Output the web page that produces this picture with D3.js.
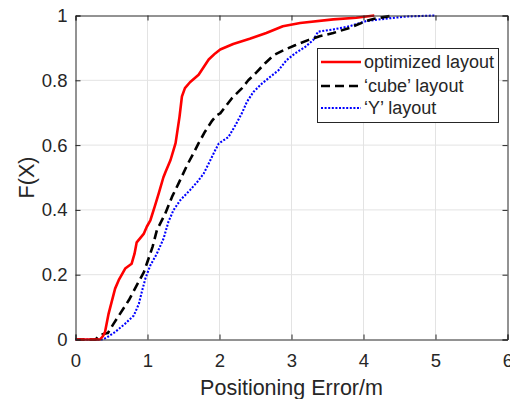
<!DOCTYPE html>
<html>
<head>
<meta charset="utf-8">
<script src="https://cdn.jsdelivr.net/npm/d3@7"></script>
<style>
  html, body { margin: 0; padding: 0; background: #fff; }
  svg { display: block; }
  text { font-family: "Liberation Sans", Arial, Helvetica, sans-serif; fill: #262626; }
</style>
</head>
<body>
<svg id="chart" width="510" height="399"></svg>
<script>
// ---- data ----
const xTicks = [0, 1, 2, 3, 4, 5, 6];
const yTicks = [0, 0.2, 0.4, 0.6, 0.8, 1];
const xTickLabels = ["0", "1", "2", "3", "4", "5", "6"];
const yTickLabels = ["0", "0.2", "0.4", "0.6", "0.8", "1"];
const seriesNames = ["optimized layout", "\u2018cube\u2019 layout", "\u2018Y\u2019 layout"];

const optimizedX = [0, 0.34, 0.38, 0.41, 0.46, 0.55, 0.60, 0.69, 0.78, 0.82, 0.85, 0.95, 0.99, 1.04, 1.10, 1.155, 1.22, 1.25, 1.32, 1.36, 1.39, 1.445, 1.478, 1.52, 1.59, 1.71, 1.85, 1.94, 2.01, 2.19, 2.42, 2.65, 2.88, 3.12, 3.58, 3.9, 4.15];
const optimizedY = [0, 0, 0.01, 0.023, 0.08, 0.157, 0.183, 0.219, 0.234, 0.265, 0.30, 0.327, 0.348, 0.368, 0.41, 0.45, 0.50, 0.517, 0.554, 0.584, 0.606, 0.688, 0.75, 0.776, 0.794, 0.817, 0.864, 0.883, 0.895, 0.912, 0.928, 0.946, 0.967, 0.977, 0.988, 0.993, 1.0];

const cubeX = [0, 0.28, 0.33, 0.40, 0.45, 0.53, 0.62, 0.74, 0.85, 0.95, 1.015, 1.07, 1.13, 1.247, 1.34, 1.43, 1.55, 1.66, 1.71, 1.80, 1.89, 1.96, 2.01, 2.17, 2.31, 2.40, 2.52, 2.63, 2.75, 2.89, 3.05, 3.23, 3.39, 3.58, 3.81, 4.04, 4.15, 4.41];
const cubeY = [0, 0, 0.012, 0.018, 0.02, 0.049, 0.08, 0.121, 0.167, 0.208, 0.25, 0.286, 0.337, 0.389, 0.44, 0.481, 0.538, 0.584, 0.606, 0.642, 0.673, 0.692, 0.698, 0.744, 0.775, 0.80, 0.826, 0.852, 0.877, 0.893, 0.908, 0.924, 0.936, 0.946, 0.962, 0.983, 0.99, 1.0];

const yLayoutX = [0, 0.38, 0.44, 0.55, 0.69, 0.81, 0.88, 0.92, 0.97, 1.04, 1.13, 1.224, 1.29, 1.36, 1.455, 1.59, 1.69, 1.78, 1.85, 1.94, 1.99, 2.125, 2.22, 2.31, 2.38, 2.47, 2.59, 2.70, 2.82, 2.93, 3.05, 3.19, 3.30, 3.37, 3.58, 3.81, 4.04, 4.3, 4.6, 4.99];
const yLayoutY = [0, 0, 0.007, 0.023, 0.049, 0.074, 0.11, 0.146, 0.188, 0.229, 0.265, 0.312, 0.363, 0.399, 0.43, 0.461, 0.486, 0.512, 0.543, 0.584, 0.605, 0.625, 0.661, 0.698, 0.733, 0.764, 0.79, 0.81, 0.831, 0.862, 0.883, 0.903, 0.924, 0.95, 0.957, 0.967, 0.983, 0.99, 0.997, 1.0];

// ---- layout ----
const L = 75.5, R = 507.5, T = 15.5, B = 339.5;
const svg = d3.select("#chart");
const x = d3.scaleLinear().domain([0, 6]).range([L, R]);
const y = d3.scaleLinear().domain([0, 1]).range([B, T]);
const axisColor = "#262626";

// grid
const grid = svg.append("g");
grid.selectAll("line.gx").data(xTicks.slice(1, -1)).join("line")
  .attr("x1", d => x(d)).attr("x2", d => x(d)).attr("y1", T).attr("y2", B)
  .attr("stroke", "#e3e3e3").attr("stroke-width", 1);
grid.selectAll("line.gy").data(yTicks.slice(1, -1)).join("line")
  .attr("y1", d => y(d)).attr("y2", d => y(d)).attr("x1", L).attr("x2", R)
  .attr("stroke", "#e3e3e3").attr("stroke-width", 1);

// series
const series = [
  { xs: optimizedX, ys: optimizedY, color: "#ff0000", width: 2.6, dash: null },
  { xs: cubeX, ys: cubeY, color: "#000000", width: 2.6, dash: "9,5" },
  { xs: yLayoutX, ys: yLayoutY, color: "#0000ff", width: 2.1, dash: "2,1.6" }
];
const line = d3.line().x(d => x(d[0])).y(d => y(d[1]));
series.slice().reverse().forEach(s => {
  svg.append("path")
    .datum(s.xs.map((v, i) => [v, s.ys[i]]))
    .attr("d", line)
    .attr("fill", "none")
    .attr("stroke", s.color)
    .attr("stroke-width", s.width)
    .attr("stroke-dasharray", s.dash)
    .attr("stroke-linejoin", "round");
});

// axes
const fs = 18.5;
const xAxis = d3.axisBottom(x).tickValues(xTicks).tickFormat((d, i) => xTickLabels[i]).tickSize(-5).tickPadding(14);
const gx = svg.append("g").attr("transform", `translate(0,${B})`).call(xAxis);
const yAxis = d3.axisLeft(y).tickValues(yTicks).tickFormat((d, i) => yTickLabels[i]).tickSize(-5).tickPadding(8);
const gy = svg.append("g").attr("transform", `translate(${L},0)`).call(yAxis);
const xTop = d3.axisTop(x).tickValues(xTicks).tickFormat("").tickSize(-5);
const gxt = svg.append("g").attr("transform", `translate(0,${T})`).call(xTop);
const yRight = d3.axisRight(y).tickValues(yTicks).tickFormat("").tickSize(-5);
const gyr = svg.append("g").attr("transform", `translate(${R},0)`).call(yRight);
[gx, gy, gxt, gyr].forEach(g => {
  g.select(".domain").attr("stroke", axisColor);
  g.selectAll(".tick line").attr("stroke", axisColor);
  g.selectAll(".tick text").attr("fill", axisColor).style("font-size", fs + "px")
    .style("font-family", "'Liberation Sans', Arial, Helvetica, sans-serif");
});

// axis labels
svg.append("text").attr("x", (L + R) / 2).attr("y", 395).attr("text-anchor", "middle")
  .style("font-size", "21.5px").text("Positioning Error/m");
svg.append("text").attr("transform", `translate(34,${(T + B) / 2}) rotate(-90)`)
  .attr("text-anchor", "middle").style("font-size", "21.5px").text("F(X)");

// legend
const lg = svg.append("g");
lg.append("rect").attr("x", 317.5).attr("y", 48.5).attr("width", 181).attr("height", 74)
  .attr("fill", "#fff").attr("stroke", axisColor).attr("stroke-width", 1);
const rowY = [62, 86, 108];
series.forEach((s, i) => {
  lg.append("line").attr("x1", 321).attr("x2", 361).attr("y1", rowY[i]).attr("y2", rowY[i])
    .attr("stroke", s.color).attr("stroke-width", s.width).attr("stroke-dasharray", s.dash);
  lg.append("text").attr("x", 364).attr("y", rowY[i]).attr("dy", "0.35em")
    .style("font-size", "18px").text(seriesNames[i]);
});
</script>
</body>
</html>
